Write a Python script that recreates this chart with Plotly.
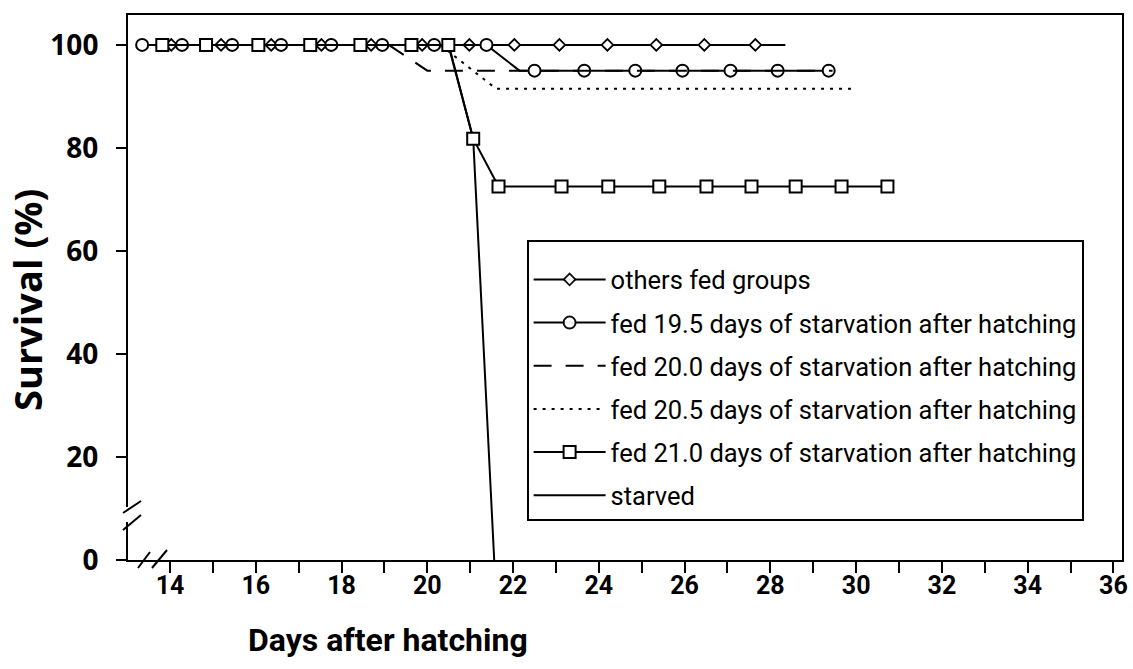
import plotly.graph_objects as go

# ---- data (days after hatching, survival %) ----
others_x = [14.03, 15.19, 16.36, 17.53, 18.69, 19.88, 20.98, 22.03, 23.08, 24.20, 25.34, 26.46, 27.65, 28.35]
others_y = [100, 100, 100, 100, 100, 100, 100, 100, 100, 100, 100, 100, 100, 100]
others_mark = [1, 1, 1, 1, 1, 1, 1, 1, 1, 1, 1, 1, 1, 0]

fed195_x = [13.35, 14.28, 15.45, 16.59, 17.76, 18.95, 20.16, 21.38, 22.15, 22.50, 23.66, 24.85, 25.95, 27.07, 28.17, 29.36]
fed195_y = [100, 100, 100, 100, 100, 100, 100, 100, 95.0, 95.0, 95.0, 95.0, 95.0, 95.0, 95.0, 95.0]
fed195_mark = [1, 1, 1, 1, 1, 1, 1, 1, 0, 1, 1, 1, 1, 1, 1, 1]

fed200_x = [19.1, 20.0, 29.45]
fed200_y = [100, 95.0, 95.0]

fed205_x = [20.3, 21.6, 29.9]
fed205_y = [100, 91.5, 91.5]

fed210_x = [13.82, 14.84, 16.06, 17.27, 18.44, 19.63, 20.49, 21.07, 21.66, 23.13, 24.22, 25.41, 26.51, 27.56, 28.59, 29.66, 30.73]
fed210_y = [100, 100, 100, 100, 100, 100, 100, 81.8, 72.5, 72.5, 72.5, 72.5, 72.5, 72.5, 72.5, 72.5, 72.5]

starved_x = [20.5, 21.07, 21.56]
starved_y = [100, 81.8, 0]

names = ["others fed groups",
         "fed 19.5 days of starvation after hatching",
         "fed 20.0 days of starvation after hatching",
         "fed 20.5 days of starvation after hatching",
         "fed 21.0 days of starvation after hatching",
         "starved"]

x_major = [14, 16, 18, 20, 22, 24, 26, 28, 30, 32, 34, 36]
y_major = [0, 20, 40, 60, 80, 100]

NARROW = "Roboto, DejaVu Sans Condensed, sans-serif"
BOLD = "Open Sans, Noto Sans, sans-serif"

fig = go.Figure()
lw = 2
fig.add_trace(go.Scatter(x=others_x, y=others_y, name=names[0], mode="lines+markers",
                         line=dict(color="black", width=lw),
                         marker=dict(symbol="diamond", size=9, color="white", opacity=others_mark,
                                     line=dict(color="black", width=1.8)),
                         legendgroup="a"))
fig.add_trace(go.Scatter(x=fed195_x, y=fed195_y, name=names[1], mode="lines+markers",
                         line=dict(color="black", width=lw),
                         marker=dict(symbol="circle", size=12, color="white", opacity=fed195_mark,
                                     line=dict(color="black", width=2)),
                         legendgroup="b"))
fig.add_trace(go.Scatter(x=fed200_x, y=fed200_y, name=names[2], mode="lines",
                         line=dict(color="black", width=lw, dash="18px,14px"),
                         legendgroup="c"))
fig.add_trace(go.Scatter(x=fed205_x, y=fed205_y, name=names[3], mode="lines",
                         line=dict(color="black", width=lw, dash="3px,6px"),
                         legendgroup="d"))
fig.add_trace(go.Scatter(x=starved_x, y=starved_y, name=names[5], mode="lines",
                         line=dict(color="black", width=lw),
                         legendgroup="f", showlegend=False))
fig.add_trace(go.Scatter(x=fed210_x, y=fed210_y, name=names[4], mode="lines+markers",
                         line=dict(color="black", width=lw),
                         marker=dict(symbol="square", size=12, color="white",
                                     line=dict(color="black", width=2)),
                         legendgroup="e"))
fig.add_trace(go.Scatter(x=[None], y=[None], name=names[5], mode="lines",
                         line=dict(color="black", width=lw),
                         legendgroup="f"))

fig.update_layout(
    width=1133, height=669,
    margin=dict(l=128, r=11, t=15, b=109),
    plot_bgcolor="white", paper_bgcolor="white",
    showlegend=True,
    legend=dict(x=0.401, y=0.587, xanchor="left", yanchor="top",
                bordercolor="black", borderwidth=2, bgcolor="white",
                font=dict(family=NARROW, size=25.5, color="black", weight="normal"),
                title=dict(text=" ", font=dict(size=11)),
                tracegroupgap=7, itemwidth=72,
                traceorder="grouped"),
    xaxis=dict(range=[13.02, 36.2], tickvals=x_major, ticktext=[str(v) for v in x_major],
               ticks="outside", ticklen=11, tickwidth=2, tickcolor="black",
               showline=True, linecolor="black", linewidth=2, mirror=True,
               showgrid=False, zeroline=False, automargin=False,
               ticklabelstandoff=-9,
               tickfont=dict(family=NARROW, size=25, color="black", weight="bold"),
               minor=dict(dtick=1, tick0=13, ticks="outside", ticklen=11, tickwidth=2, tickcolor="black")),
    yaxis=dict(range=[0, 105.8], tickvals=y_major, ticktext=[str(v) for v in y_major],
               ticks="outside", ticklen=10, tickwidth=2, tickcolor="black",
               showline=True, linecolor="black", linewidth=2, mirror=True,
               showgrid=False, zeroline=False, automargin=False,
               ticklabelstandoff=12,
               tickfont=dict(family=BOLD, size=28, color="black", weight="bold")),
)

fig.add_annotation(text="Days after hatching", xref="paper", yref="paper",
                   x=(388 - 128) / 994, y=-(640 - 560) / 545, xanchor="center", yanchor="middle",
                   showarrow=False,
                   font=dict(family=NARROW, size=32, color="black", weight="bold"))
fig.add_annotation(text="Survival (%)", xref="paper", yref="paper", textangle=-90,
                   x=(27 - 128) / 994, y=(560 - 300) / 545, xanchor="center", yanchor="middle",
                   showarrow=False,
                   font=dict(family=BOLD, size=38, color="black", weight="bold"))

# axis break decorations
def px(xp):
    return (xp - 128) / 994

def py(yp):
    return (560 - yp) / 545

fig.add_shape(type="line", xref="paper", yref="paper", x0=0, x1=0, y0=py(522), y1=py(507),
              line=dict(color="white", width=4), layer="above")
for (a, b, c, d) in [(123, 513, 141, 501), (123, 530, 141, 515),
                     (138, 568, 150, 552), (152, 568, 167, 550)]:
    fig.add_shape(type="line", xref="paper", yref="paper", x0=px(a), y0=py(b), x1=px(c), y1=py(d),
                  line=dict(color="black", width=2), layer="above")

fig.write_html("out.html")
